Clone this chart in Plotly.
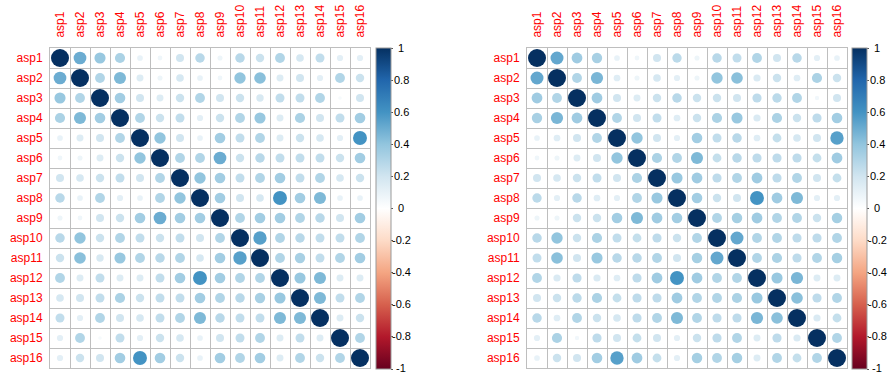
import plotly.graph_objects as go
import math

labels = [f"asp{i}" for i in range(1, 17)]

corr_left = [
    [1, .5, .38, .32, .1, .07, .2, .28, .08, .28, .22, .3, .18, .25, .12, .12],
    [.5, 1, .3, .45, .15, .08, .18, .1, .07, .4, .42, .15, .2, .12, .3, .22],
    [.38, .3, 1, .35, .2, .15, .22, .3, .2, .22, .17, .25, .25, .3, .04, .2],
    [.32, .45, .35, 1, .3, .22, .25, .12, .22, .3, .38, .15, .32, .2, .25, .35],
    [.1, .15, .2, .3, 1, .4, .2, .1, .35, .25, .3, .15, .22, .18, .12, .6],
    [.07, .08, .15, .22, .4, 1, .3, .3, .5, .22, .28, .25, .25, .25, .22, .35],
    [.2, .18, .22, .25, .2, .3, 1, .4, .35, .25, .3, .35, .25, .3, .18, .22],
    [.28, .1, .3, .12, .1, .3, .4, 1, .35, .2, .18, .6, .35, .45, .1, .1],
    [.08, .07, .2, .22, .35, .5, .35, .35, 1, .3, .35, .35, .3, .28, .2, .35],
    [.28, .4, .22, .3, .25, .22, .25, .2, .3, 1, .55, .3, .28, .25, .25, .3],
    [.22, .42, .17, .38, .3, .28, .3, .18, .35, .55, 1, .3, .33, .25, .3, .35],
    [.3, .15, .25, .15, .15, .25, .35, .6, .35, .3, .3, 1, .38, .45, .15, .15],
    [.18, .2, .25, .32, .22, .25, .25, .35, .3, .28, .33, .38, 1, .45, .25, .3],
    [.25, .12, .3, .2, .18, .25, .3, .45, .28, .25, .25, .45, .45, 1, .15, .22],
    [.12, .3, .04, .25, .12, .22, .18, .1, .2, .25, .3, .15, .25, .15, 1, .3],
    [.12, .22, .2, .35, .6, .35, .22, .1, .35, .3, .35, .15, .3, .22, .3, 1],
]

corr_right = [
    [1, .52, .36, .33, .1, .07, .2, .27, .08, .28, .25, .3, .2, .28, .12, .1],
    [.52, 1, .3, .46, .14, .08, .18, .12, .08, .4, .42, .16, .22, .14, .32, .22],
    [.36, .3, 1, .36, .2, .15, .22, .28, .22, .22, .2, .26, .27, .3, .06, .2],
    [.33, .46, .36, 1, .3, .2, .25, .14, .22, .32, .38, .16, .32, .22, .26, .35],
    [.1, .14, .2, .3, 1, .4, .2, .12, .35, .25, .28, .14, .24, .18, .2, .55],
    [.07, .08, .15, .2, .4, 1, .32, .3, .45, .24, .28, .26, .26, .26, .24, .36],
    [.2, .18, .22, .25, .2, .32, 1, .38, .36, .26, .3, .36, .26, .3, .2, .24],
    [.27, .12, .28, .14, .12, .3, .38, 1, .35, .22, .2, .6, .36, .45, .12, .12],
    [.08, .08, .22, .22, .35, .45, .36, .35, 1, .3, .34, .36, .3, .3, .22, .34],
    [.28, .4, .22, .32, .25, .24, .26, .22, .3, 1, .52, .3, .3, .26, .26, .3],
    [.25, .42, .2, .38, .28, .28, .3, .2, .34, .52, 1, .3, .32, .26, .3, .34],
    [.3, .16, .26, .16, .14, .26, .36, .6, .36, .3, .3, 1, .38, .46, .15, .15],
    [.2, .22, .27, .32, .24, .26, .26, .36, .3, .3, .32, .38, 1, .42, .26, .3],
    [.28, .14, .3, .22, .18, .26, .3, .45, .3, .26, .26, .46, .42, 1, .16, .24],
    [.12, .32, .06, .26, .2, .24, .2, .12, .22, .26, .3, .15, .26, .16, 1, .3],
    [.1, .22, .2, .35, .55, .36, .24, .12, .34, .3, .34, .15, .3, .24, .3, 1],
]

cbar_ticks = [1, 0.8, 0.6, 0.4, 0.2, 0, -0.2, -0.4, -0.6, -0.8, -1]
cbar_text = ["1", "0.8", "0.6", "0.4", "0.2", "0", "-0.2", "-0.4", "-0.6", "-0.8", "-1"]

rdbu = ["#67001F", "#B2182B", "#D6604D", "#F4A582", "#FDDBC7", "#FFFFFF",
        "#D1E5F0", "#92C5DE", "#4393C3", "#2166AC", "#053061"]
colorscale = [[i / 10, c] for i, c in enumerate(rdbu)]

W, H = 888, 377
FONT = "Liberation Sans, Arial, sans-serif"
GRID = "#BEBEBE"
top_px, bot_px = 48, 368
panels = [
    dict(mat=corr_left, gx0=50, gx1=370, cbx=376, lab_cx=401, ax=""),
    dict(mat=corr_right, gx0=527, gx1=847, cbx=852, lab_cx=877, ax="2"),
]

fig = go.Figure()
annotations = []
n = len(labels)
for p in panels:
    xs, ys, vals, sizes = [], [], [], []
    for i in range(n):
        for j in range(n):
            v = p["mat"][i][j]
            xs.append(j)
            ys.append(i)
            vals.append(v)
            sizes.append(18 * math.sqrt(abs(v)))
    fig.add_trace(go.Scatter(
        x=xs, y=ys, mode="markers",
        xaxis="x" + p["ax"], yaxis="y" + p["ax"],
        marker=dict(
            color=vals, size=sizes, colorscale=colorscale, cmin=-1, cmax=1,
            line=dict(width=0), opacity=1,
            colorbar=dict(
                x=p["cbx"] / W, xanchor="left", xpad=0, ypad=0,
                y=1 - top_px / H, yanchor="top",
                len=bot_px - top_px + 1, lenmode="pixels",
                thickness=15, thicknessmode="pixels",
                tickvals=cbar_ticks, ticks="outside", ticklen=2,
                tickcolor="#555", showticklabels=False,
                outlinewidth=1, outlinecolor="#999",
            ),
        ),
        hovertemplate="%{marker.color}<extra></extra>",
        showlegend=False,
    ))
    for v, t in zip(cbar_ticks, cbar_text):
        ypx = top_px + (1 - v) / 2 * (bot_px - top_px)
        annotations.append(dict(
            x=p["lab_cx"] / W, y=1 - ypx / H, xref="paper", yref="paper",
            text=t, showarrow=False, xanchor="center", yanchor="middle",
            font=dict(family=FONT, size=11, color="black"),
        ))

    axis_common = dict(
        tickmode="array", tickvals=list(range(n)), ticktext=labels,
        tickfont=dict(family=FONT, size=12, color="#FF0000"),
        showgrid=False, zeroline=False, ticks="",
        showline=True, mirror=True, linecolor=GRID, linewidth=1,
        minor=dict(tickmode="linear", tick0=0.5, dtick=1, showgrid=True,
                   gridcolor=GRID, gridwidth=1, ticks=""),
        fixedrange=True,
    )
    fig.update_layout(**{
        "xaxis" + p["ax"]: dict(
            axis_common, domain=[p["gx0"] / W, p["gx1"] / W],
            range=[-0.5, n - 0.5], side="top", tickangle=-90,
            anchor="y" + p["ax"], ticklabelstandoff=7,
        ),
        "yaxis" + p["ax"]: dict(
            axis_common, domain=[1 - bot_px / H, 1 - top_px / H],
            range=[n - 0.5, -0.5], anchor="x" + p["ax"], ticklabelstandoff=4,
        ),
    })

fig.update_layout(
    width=W, height=H, margin=dict(l=0, r=0, t=0, b=0),
    paper_bgcolor="white", plot_bgcolor="white",
    annotations=annotations, font=dict(family=FONT),
)
fig.write_html("out.html")
